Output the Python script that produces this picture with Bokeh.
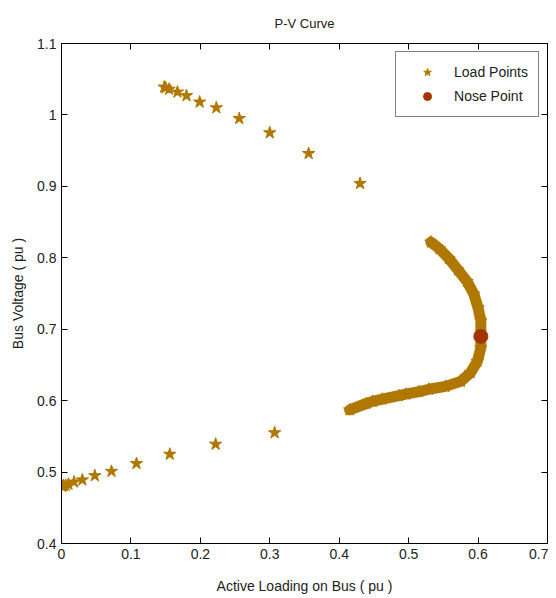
from bokeh.plotting import figure
from bokeh.models import LinearAxis, FixedTicker, Range1d
from bokeh.embed import file_html
from bokeh.resources import INLINE

# ---- data ----
upper_p = [0.148, 0.150, 0.155, 0.167, 0.180, 0.199, 0.223, 0.256, 0.300, 0.356, 0.430]
upper_v = [1.039, 1.038, 1.036, 1.032, 1.027, 1.018, 1.010, 0.995, 0.975, 0.946, 0.904]

dense_p = [0.532, 0.544, 0.558, 0.571, 0.584, 0.594, 0.600, 0.604, 0.604, 0.604, 0.599,
           0.589, 0.575, 0.553, 0.529, 0.515, 0.496, 0.486, 0.462, 0.448, 0.439, 0.415]
dense_v = [0.822, 0.813, 0.799, 0.783, 0.767, 0.749, 0.730, 0.712, 0.692, 0.674, 0.655,
           0.639, 0.627, 0.620, 0.616, 0.6125, 0.609, 0.607, 0.602, 0.599, 0.596, 0.587]

lower_p = [0.001, 0.003, 0.006, 0.010, 0.018, 0.030, 0.048, 0.072, 0.108, 0.156, 0.222, 0.307]
lower_v = [0.480, 0.481, 0.4815, 0.483, 0.486, 0.489, 0.495, 0.501, 0.512, 0.525, 0.539, 0.555]

nose_p = [0.604]
nose_v = [0.690]

x_ticks = [0.0, 0.1, 0.2, 0.3, 0.4, 0.5, 0.6, 0.7]
x_tick_labels = ["0", "0.1", "0.2", "0.3", "0.4", "0.5", "0.6", "0.7"]
y_ticks = [0.4, 0.5, 0.6, 0.7, 0.8, 0.9, 1.0, 1.1]
y_tick_labels = ["0.4", "0.5", "0.6", "0.7", "0.8", "0.9", "1", "1.1"]

STAR = "#B07800"
NOSE = "#A33300"
FONT = "Liberation Sans"

p = figure(width=548, height=596, output_backend="svg", toolbar_location=None,
           x_range=Range1d(0, 0.7), y_range=Range1d(0.4, 1.1),
           title="P-V Curve", x_axis_label="Active Loading on Bus ( pu )",
           y_axis_label="Bus Voltage ( pu )",
           min_border_left=61, min_border_right=1, min_border_top=43, min_border_bottom=49)

p.grid.visible = False
p.outline_line_color = "black"
p.background_fill_color = "white"
p.border_fill_color = "white"

p.title.align = "center"
p.title.text_font = FONT
p.title.text_font_size = "13px"
p.title.text_font_style = "normal"
p.title.text_color = "#222222"
p.title.standoff = 26

for ax, ticks, labels in ((p.xaxis[0], x_ticks, x_tick_labels), (p.yaxis[0], y_ticks, y_tick_labels)):
    ax.ticker = FixedTicker(ticks=ticks)
    ax.major_label_overrides = {t: l for t, l in zip(ticks, labels)}
    ax.major_tick_in = 6
    ax.major_tick_out = 0
    ax.minor_tick_in = 0
    ax.minor_tick_out = 0
    ax.axis_line_color = "black"
    ax.major_tick_line_color = "black"
    ax.major_label_text_font = FONT
    ax.major_label_text_font_size = "14px"
    ax.major_label_text_color = "#222222"
    ax.axis_label_text_font = FONT
    ax.axis_label_text_font_size = "14px"
    ax.axis_label_text_font_style = "normal"
    ax.axis_label_text_color = "#222222"
    ax.major_label_standoff = 5

p.xaxis[0].axis_label_standoff = 16
p.yaxis[0].axis_label_standoff = 8

for loc, ticks in (("above", x_ticks), ("right", y_ticks)):
    ax = LinearAxis(ticker=FixedTicker(ticks=ticks), major_tick_in=6, major_tick_out=0,
                    minor_tick_in=0, minor_tick_out=0, major_label_text_font_size="1px",
                    major_label_text_alpha=0, major_label_text_color=None,
                    major_label_standoff=0, axis_line_color="black",
                    major_tick_line_color="black")
    p.add_layout(ax, loc)

# dense part of the curve: overlapping stars drawn as a thick band
p.line(dense_p, dense_v, line_width=11, line_color=STAR, line_cap="round", line_join="round")

all_p = upper_p + dense_p + lower_p
all_v = upper_v + dense_v + lower_v
p.scatter(all_p, all_v, marker="star", size=13, fill_color=STAR, line_color=STAR,
          legend_label="Load Points")
p.scatter(nose_p, nose_v, marker="circle", size=14, fill_color=NOSE, line_color=NOSE,
          legend_label="Nose Point")

lg = p.legend[0]
lg.location = "top_right"
lg.margin = 8
lg.border_line_color = "black"
lg.border_line_width = 1
lg.background_fill_alpha = 1
lg.label_text_font = FONT
lg.label_text_font_size = "14px"
lg.label_text_color = "#222222"
lg.padding = 10
lg.spacing = 4
lg.glyph_width = 42
lg.label_standoff = 6
lg.label_height = 20
lg.glyph_height = 20

open("out.html", "w").write(file_html(p, INLINE))
